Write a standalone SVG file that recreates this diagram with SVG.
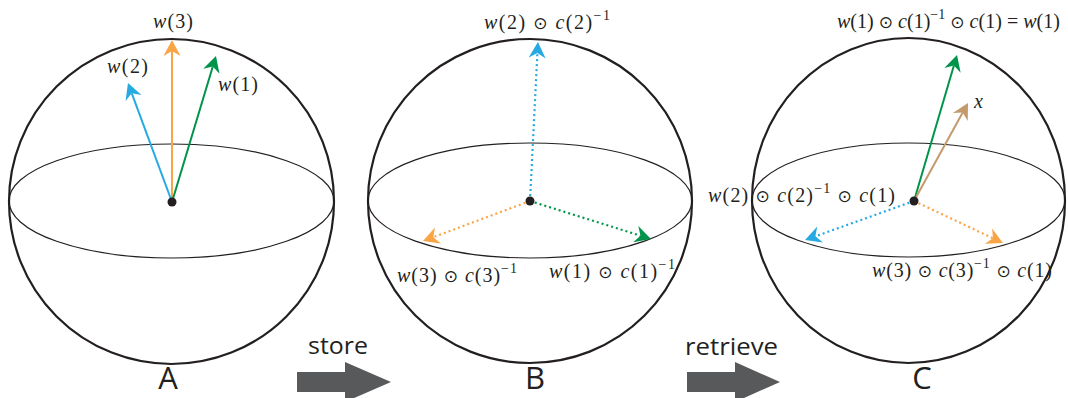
<svg xmlns="http://www.w3.org/2000/svg" width="1068" height="398" viewBox="0 0 1068 398">
<style>
.sph{fill:none;stroke:#231f20;stroke-width:2.2}
.eq{fill:none;stroke:#231f20;stroke-width:1.2}
.dot{fill:#231f20}
.v{fill:none;stroke-width:2}
.d{fill:none;stroke-width:2.2;stroke-dasharray:2 3}
.m{font-family:"Liberation Serif","Times New Roman",serif;font-size:20px;fill:#231f20}
.i{font-style:italic}
.op{font-family:"DejaVu Sans",sans-serif;font-size:17px}
.sup{font-size:14px}
.lbl{font-family:"Open Sans","Noto Sans",sans-serif;fill:#231f20}
.big{fill:#58595b}
</style>
<defs>
<marker id="hO" markerUnits="userSpaceOnUse" markerWidth="40" markerHeight="40" refX="0" refY="0" viewBox="-10 -20 40 40" orient="auto" overflow="visible"><path d="M11,0 L-5,-8.5 L0,0 L-5,8.5 Z" fill="#f9a545"/></marker>
<marker id="hB" markerUnits="userSpaceOnUse" markerWidth="40" markerHeight="40" refX="0" refY="0" viewBox="-10 -20 40 40" orient="auto" overflow="visible"><path d="M11,0 L-5,-8.5 L0,0 L-5,8.5 Z" fill="#27aae1"/></marker>
<marker id="hG" markerUnits="userSpaceOnUse" markerWidth="40" markerHeight="40" refX="0" refY="0" viewBox="-10 -20 40 40" orient="auto" overflow="visible"><path d="M11,0 L-5,-8.5 L0,0 L-5,8.5 Z" fill="#00944a"/></marker>
<marker id="hT" markerUnits="userSpaceOnUse" markerWidth="40" markerHeight="40" refX="0" refY="0" viewBox="-10 -20 40 40" orient="auto" overflow="visible"><path d="M11,0 L-5,-8.5 L0,0 L-5,8.5 Z" fill="#c49a6c"/></marker>
</defs>
<rect width="1068" height="398" fill="#ffffff"/>

<g id="sphereA">
<circle class="sph" cx="171.5" cy="201.5" r="162.5"/>
<ellipse class="eq" cx="171.5" cy="201" rx="162.5" ry="57"/>
<text class="lbl" x="168" y="389" font-size="31" text-anchor="middle">A</text>
</g>
<g id="sphereB">
<circle class="sph" cx="530" cy="201" r="162"/>
<ellipse class="eq" cx="530" cy="200.5" rx="162" ry="57.5"/>
<text class="lbl" x="535" y="389" font-size="31" text-anchor="middle">B</text>
</g>
<g id="sphereC">
<ellipse class="sph" cx="908.5" cy="200.5" rx="156.5" ry="162.5"/>
<ellipse class="eq" cx="908.5" cy="200" rx="156.5" ry="57"/>
<text class="lbl" x="922" y="389" font-size="31" text-anchor="middle">C</text>
</g>

<g id="connectors">
<line class="v" x1="172" y1="202" x2="172" y2="51" stroke="#f9a545" marker-end="url(#hO)"/>
<line class="v" x1="172" y1="202" x2="131.8" y2="93.3" stroke="#27aae1" marker-end="url(#hB)"/>
<line class="v" x1="172" y1="202" x2="212.8" y2="66.5" stroke="#00944a" marker-end="url(#hG)"/>

<line class="d" x1="530" y1="201" x2="537.4" y2="53" stroke="#27aae1" marker-end="url(#hB)"/>
<line class="d" x1="530" y1="201" x2="433.3" y2="237.2" stroke="#f9a545" marker-end="url(#hO)"/>
<line class="d" x1="530" y1="201" x2="640.5" y2="235.7" stroke="#00944a" marker-end="url(#hG)"/>

<line class="v" x1="914" y1="201" x2="953.9" y2="65.5" stroke="#00944a" marker-end="url(#hG)"/>
<line class="v" x1="914" y1="201" x2="962.7" y2="112.6" stroke="#c49a6c" marker-end="url(#hT)"/>
<line class="d" x1="914" y1="201" x2="815.4" y2="236.3" stroke="#27aae1" marker-end="url(#hB)"/>
<line class="d" x1="914" y1="201" x2="993" y2="238.3" stroke="#f9a545" marker-end="url(#hO)"/>

<polygon class="big" points="297,372 345,372 345,362 391,382 345,402 345,392 297,392"/>
<polygon class="big" points="687,372 735,372 735,362 780,382 735,402 735,392 687,392"/>
</g>

<g id="dots">
<circle class="dot" cx="172" cy="202" r="4.5"/>
<circle class="dot" cx="530" cy="201" r="4.5"/>
<circle class="dot" cx="914" cy="201" r="4.5"/>
</g>

<g id="labels">
<text class="m" x="153" y="28" textLength="40" lengthAdjust="spacing"><tspan class="i">w</tspan>(3)</text>
<text class="m" x="107" y="73" textLength="41" lengthAdjust="spacing"><tspan class="i">w</tspan>(2)</text>
<text class="m" x="218" y="91" textLength="40" lengthAdjust="spacing"><tspan class="i">w</tspan>(1)</text>

<text class="m" x="484" y="29" textLength="126" lengthAdjust="spacing"><tspan class="i">w</tspan>(2) <tspan class="op">⊙</tspan> <tspan class="i">c</tspan>(2)<tspan class="sup" dy="-9">−1</tspan></text>
<text class="m" x="397" y="282" textLength="120" lengthAdjust="spacing"><tspan class="i">w</tspan>(3) <tspan class="op">⊙</tspan> <tspan class="i">c</tspan>(3)<tspan class="sup" dy="-9">−1</tspan></text>
<text class="m" x="549" y="278" textLength="126" lengthAdjust="spacing"><tspan class="i">w</tspan>(1) <tspan class="op">⊙</tspan> <tspan class="i">c</tspan>(1)<tspan class="sup" dy="-9">−1</tspan></text>

<text class="m" x="837" y="28" textLength="223" lengthAdjust="spacing"><tspan class="i">w</tspan>(1) <tspan class="op">⊙</tspan> <tspan class="i">c</tspan>(1)<tspan class="sup" dy="-9">−1</tspan><tspan dy="9"> </tspan><tspan class="op">⊙</tspan> <tspan class="i">c</tspan>(1) = <tspan class="i">w</tspan>(1)</text>
<text class="m i" x="974" y="108">x</text>
<text class="m" x="708" y="202" textLength="187" lengthAdjust="spacing"><tspan class="i">w</tspan>(2) <tspan class="op">⊙</tspan> <tspan class="i">c</tspan>(2)<tspan class="sup" dy="-9">−1</tspan><tspan dy="9"> </tspan><tspan class="op">⊙</tspan> <tspan class="i">c</tspan>(1)</text>
<text class="m" x="872" y="277" textLength="180" lengthAdjust="spacing"><tspan class="i">w</tspan>(3) <tspan class="op">⊙</tspan> <tspan class="i">c</tspan>(3)<tspan class="sup" dy="-9">−1</tspan><tspan dy="9"> </tspan><tspan class="op">⊙</tspan> <tspan class="i">c</tspan>(1)</text>

<text class="lbl" x="308" y="354" font-size="24" textLength="60" lengthAdjust="spacingAndGlyphs">store</text>
<text class="lbl" x="685" y="355" font-size="24" textLength="93" lengthAdjust="spacingAndGlyphs">retrieve</text>
</g>
</svg>
